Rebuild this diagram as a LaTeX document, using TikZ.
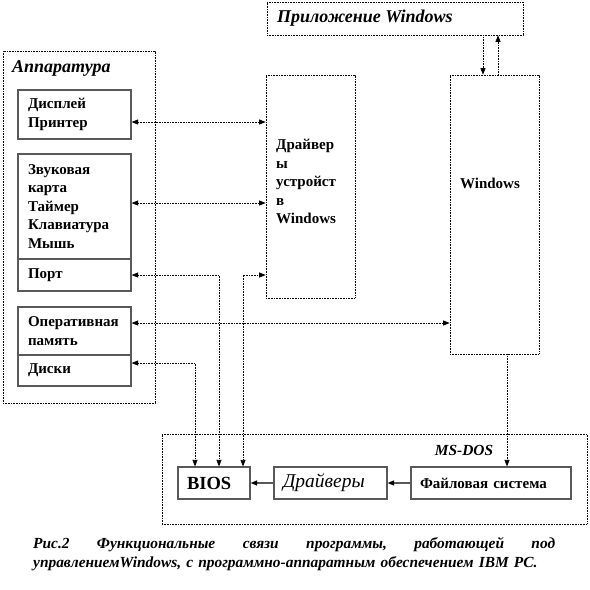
\documentclass[tikz,border=0pt]{standalone}
\usepackage{fontspec}
\setmainfont{Liberation Serif}
\usetikzlibrary{arrows.meta}
\begin{document}
\begin{tikzpicture}[x=1pt,y=-1pt,
  dotbox/.style={draw=black,line width=0.7pt,dash pattern=on 0.8pt off 0.8pt,rectangle,inner sep=0pt},
  hwbox/.style={draw=black!65,line width=1.2pt,rectangle,inner sep=0pt,inner xsep=10pt,
    align=left,font=\fontsize{15}{18.5}\selectfont\bfseries,anchor=center},
  dosbox/.style={draw=black!65,line width=1.2pt,rectangle,inner sep=0pt,inner xsep=9pt,anchor=center,align=left},
  lbl/.style={inner sep=0pt,font=\fontsize{15}{18.5}\selectfont\bfseries,align=left},
  link/.style={line width=0.7pt,dash pattern=on 0.8pt off 0.8pt,
    {Triangle[length=6.5pt,width=5pt]}-{Triangle[length=6.5pt,width=5pt]}},
  solidlink/.style={line width=1.2pt,draw=black!65,-{Triangle[length=6.5pt,width=5pt,fill=black,color=black]}}
]
\useasboundingbox (0,0) rectangle (590,590);

% Hardware
\node[dotbox,minimum width=152pt,minimum height=352pt] (hw) at (79,227) {};
\node[lbl,anchor=west,font=\fontsize{18}{20}\selectfont\bfseries\itshape] (hwl) at (12,68) {Аппаратура};
\node[hwbox,minimum width=113pt,minimum height=49pt,text width=93pt] (disp) at (74.5,114.5) {Дисплей\\Принтер};
\node[hwbox,minimum width=113pt,minimum height=105pt,text width=93pt] (snd) at (74.5,206.5) {Звуковая\\карта\\Таймер\\Клавиатура\\Мышь};
\node[hwbox,minimum width=113pt,minimum height=32pt,text width=93pt] (port) at (74.5,275) {Порт};
\node[hwbox,minimum width=113pt,minimum height=48pt,text width=93pt] (ram) at (74.5,331) {Оперативная\\память};
\node[hwbox,minimum width=113pt,minimum height=31pt,text width=93pt] (disk) at (74.5,370.5) {Диски};

% Windows application
\node[dotbox,minimum width=256pt,minimum height=33pt] (appw) at (395,18.5) {};
\node[lbl,anchor=west,font=\fontsize{18}{20}\selectfont\bfseries\itshape] (appwl) at (277,18) {Приложение Windows};

% Device drivers
\node[dotbox,minimum width=89pt,minimum height=223pt] (drv) at (310.5,186.5) {};
\node[lbl,anchor=north west] (drvl) at (276,139) {Драйвер\\ы\\устройст\\в\\Windows};

% Windows
\node[dotbox,minimum width=89pt,minimum height=279pt] (win) at (494.5,214.5) {};
\node[lbl] (winl) at (490,183) {Windows};

% MS-DOS
\node[dotbox,minimum width=425pt,minimum height=90pt] (dos) at (374.5,479) {};
\node[lbl,font=\fontsize{15.4}{18}\selectfont\bfseries\itshape] (dosl) at (464,450) {MS-DOS};
\node[dosbox,minimum width=72pt,minimum height=32pt,text width=54pt,font=\fontsize{18.5}{20}\selectfont\bfseries] (bios) at (214,483) {BIOS};
\node[dosbox,minimum width=113pt,minimum height=32pt,text width=95pt,font=\fontsize{19.5}{21}\selectfont\itshape] (drvs) at (330.5,483) {Драйверы};
\node[dosbox,minimum width=160pt,minimum height=32pt,text width=142pt,font=\fontsize{15}{18}\selectfont\bfseries] (fs) at (491,483) {Файловая система};

% Connectors
\draw[link] ([yshift=-7.5pt]disp.east) coordinate (c1) -- (c1 -| drv.west);
\draw[link] ([yshift=3.5pt]snd.east) coordinate (c2) -- (c2 -| drv.west);
\draw[link] (port.east) -| ([xshift=5pt]bios.north);
\draw[link] ([yshift=7.5pt]disk.east) -| ([xshift=-19pt]bios.north);
\draw[link] (port.east -| drv.west) -| ([xshift=29pt]bios.north);
\draw[link] ([yshift=8pt]ram.east) coordinate (c3) -- (c3 -| win.west);
\draw[link,-{Triangle[length=6.5pt,width=5pt]}] ([xshift=-11.5pt]win.north |- appw.south) -- ([xshift=-11.5pt]win.north);
\draw[link,-{Triangle[length=6.5pt,width=5pt]}] ([xshift=3.5pt]win.north) -- ([xshift=3.5pt]win.north |- appw.south);
\draw[link,-{Triangle[length=6.5pt,width=5pt]}] ([xshift=16pt]fs.north |- win.south) -- ([xshift=16pt]fs.north);
\draw[solidlink] (fs.west) -- (drvs.east);
\draw[solidlink] (drvs.west) -- (bios.east);

% Caption
\node[anchor=north west,inner sep=0pt,align=left,text width=522pt,
  font=\fontsize{15.4}{19.5}\selectfont\bfseries\itshape] (cap) at (33,537)
  {\hbox to 522pt{Рис.2\hfill Функциональные\hfill связи\hfill программы,\hfill работающей\hfill под}\\
   управлениемWindows, с программно-аппаратным обеспечением IBM PC.};
\end{tikzpicture}
\end{document}
